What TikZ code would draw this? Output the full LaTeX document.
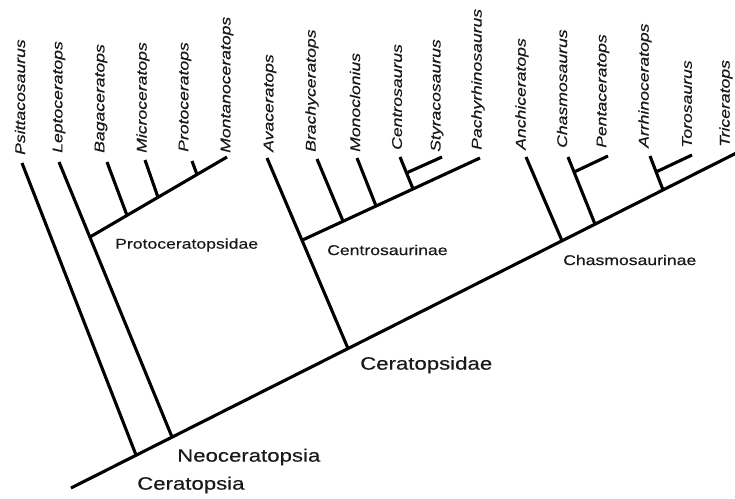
\documentclass[tikz,border=0pt]{standalone}
\usepackage{fontspec}
\usetikzlibrary{calc}
\newfontfamily\cladefont[FakeStretch=1.24,FakeBold=0.4]{Liberation Sans}
\tikzset{
  branch/.style={line width=3.1pt},
  taxon/.style={rotate=90, anchor=west, inner sep=0pt, text=black!90,
    font=\cladefont\itshape\fontsize{14.2}{16}\selectfont},
  clade/.style={anchor=west, inner sep=0pt, text=black!90,
    font=\cladefont\fontsize{14.2}{16}\selectfont},
  bigclade/.style={anchor=west, inner sep=0pt, text=black!90,
    font=\cladefont\fontsize{17.9}{20}\selectfont},
}
\begin{document}
\begin{tikzpicture}[x=1pt,y=-1pt]
  \useasboundingbox (0,0) rectangle (735,498);

  % main stem
  \coordinate (root) at (71,488);
  \coordinate (cera) at (136,455);
  \coordinate (neo) at (172,437);
  \coordinate (ceratopsidae) at (348,348.4);
  \coordinate (chasmo) at (562,240.7);
  \coordinate (chapen) at (595,224.1);
  \coordinate (arrtor) at (663,189.9);
  \coordinate (tri) at (737,152.7);
  \draw[branch] (root) -- (tri);

  % basal taxa
  \coordinate (psi) at (22,163);
  \coordinate (lep) at (59,162);
  \draw[branch] (cera) -- (psi);
  \draw[branch] (neo) -- (lep);

  % Protoceratopsidae
  \coordinate (proto) at ($(neo)!0.727!(lep)$);
  \coordinate (mon) at (227,157);
  \coordinate (bagnode) at (127,215.4);
  \coordinate (micnode) at (158,197.3);
  \coordinate (prtnode) at (197,174.5);
  \draw[branch] (proto) -- (mon);
  \draw[branch] (bagnode) -- (107,162) coordinate (bag);
  \draw[branch] (micnode) -- (145,160) coordinate (mic);
  \draw[branch] (prtnode) -- (192,161) coordinate (prt);

  % Centrosaurinae
  \coordinate (ava) at (267,158);
  \coordinate (centro) at ($(ceratopsidae)!0.568!(ava)$);
  \coordinate (pac) at (480,158);
  \coordinate (branode) at (343,221.1);
  \coordinate (monnode) at (376,205.9);
  \coordinate (censty) at (413,188.8);
  \draw[branch] (ceratopsidae) -- (ava);
  \draw[branch] (centro) -- (pac);
  \draw[branch] (branode) -- (317,159) coordinate (bra);
  \draw[branch] (monnode) -- (357,158) coordinate (mcl);
  \draw[branch] (censty) -- (400,157) coordinate (cen);
  \coordinate (stynode) at ($(censty)!0.5!(cen)$);
  \draw[branch] (stynode) -- (442,157) coordinate (sty);

  % Chasmosaurinae
  \coordinate (anc) at (526,157);
  \coordinate (cha) at (568,157);
  \draw[branch] (chasmo) -- (anc);
  \draw[branch] (chapen) -- (cha);
  \coordinate (pennode) at ($(chapen)!0.776!(cha)$);
  \draw[branch] (pennode) -- (608,156) coordinate (pen);
  \coordinate (arr) at (650,156);
  \draw[branch] (arrtor) -- (arr);
  \coordinate (tornode) at ($(arrtor)!0.53!(arr)$);
  \draw[branch] (tornode) -- (692,155) coordinate (tor);

  % taxon labels
  \node[taxon] (Psittacosaurus) at (20,155) {Psittacosaurus};
  \node[taxon] (Leptoceratops) at (59,153) {Leptoceratops};
  \node[taxon] (Bagaceratops) at (101,153) {Bagaceratops};
  \node[taxon] (Microceratops) at (143,153) {Microceratops};
  \node[taxon] (Protoceratops) at (185,152) {Protoceratops};
  \node[taxon] (Montanoceratops) at (227,153) {Montanoceratops};
  \node[taxon] (Avaceratops) at (270,152) {Avaceratops};
  \node[taxon] (Brachyceratops) at (312,152) {Brachyceratops};
  \node[taxon] (Monoclonius) at (355,152) {Monoclonius};
  \node[taxon] (Centrosaurus) at (397,150) {Centrosaurus};
  \node[taxon] (Styracosaurus) at (437,152) {Styracosaurus};
  \node[taxon] (Pachyrhinosaurus) at (478,150) {Pachyrhinosaurus};
  \node[taxon] (Anchiceratops) at (522,150) {Anchiceratops};
  \node[taxon] (Chasmosaurus) at (562,148) {Chasmosaurus};
  \node[taxon] (Pentaceratops) at (603,148) {Pentaceratops};
  \node[taxon] (Arrhinoceratops) at (645,148) {Arrhinoceratops};
  \node[taxon] (Torosaurus) at (687,148) {Torosaurus};
  \node[taxon] (Triceratops) at (726,147) {Triceratops};

  % clade labels
  \node[clade] (Protoceratopsidae) at (115,245) {Protoceratopsidae};
  \node[clade] (Centrosaurinae) at (327,250) {Centrosaurinae};
  \node[clade] (Chasmosaurinae) at (563,260) {Chasmosaurinae};
  \node[bigclade] (Ceratopsidae) at (360,365) {Ceratopsidae};
  \node[bigclade] (Neoceratopsia) at (177,457) {Neoceratopsia};
  \node[bigclade] (Ceratopsia) at (137,485) {Ceratopsia};
\end{tikzpicture}
\end{document}
